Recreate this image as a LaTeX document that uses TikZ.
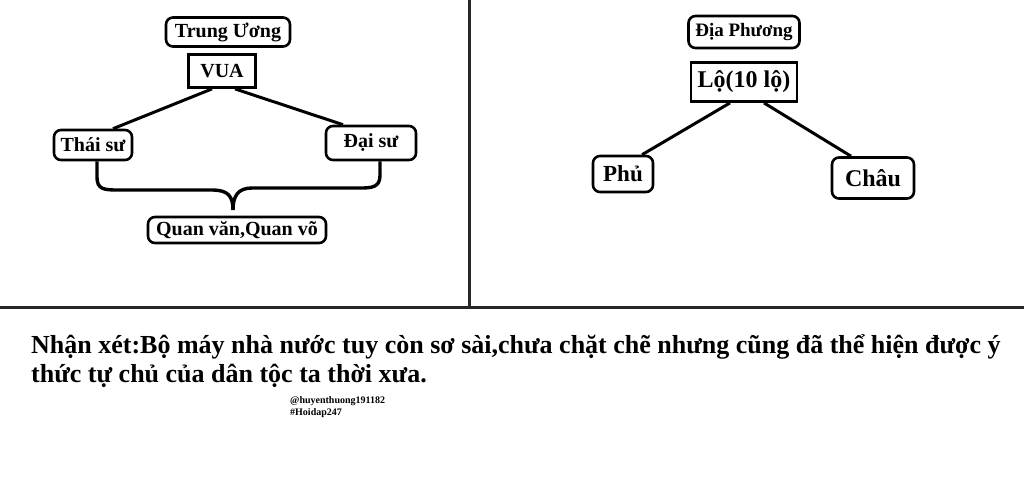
\documentclass[tikz,border=0pt]{standalone}
\usepackage{fontspec}
\setmainfont{Liberation Serif}
\usepackage{tikz}
\usetikzlibrary{calc}
\tikzstyle{rbox}=[draw,rounded corners=7pt,line width=2.6pt,inner sep=0pt]
\tikzstyle{sbox}=[draw,line width=2.8pt,inner sep=0pt]
\tikzstyle{edge} = [draw,line width=3pt]
\tikzstyle{brace} = [draw,line width=3.4pt]
\tikzstyle{frame} = [draw,line width=3pt,black!85]
\tikzstyle{note} = [inner sep=0pt,font=\bfseries\fontsize{26}{29}\selectfont]
\tikzstyle{sig} = [inner sep=0pt,font=\bfseries\fontsize{10}{12}\selectfont]

\begin{document}
\begin{tikzpicture}[x=1pt,y=-1pt]
    \useasboundingbox (0,0) rectangle (1024,483);
    % The frame between the panels
    \draw[frame] (469,0) -- (469,307);
    \draw[frame] (0,307) -- (1024,307);

    % First we draw the boxes
    \foreach \pos/\name/\w/\h/\fs/\txt in {{(222,71)/vua/67/33/20/VUA}, {(744,82)/lo/106/39/24/Lộ(10 lộ)}}
        \node[sbox,minimum width=\w pt,minimum height=\h pt,font=\bfseries\fontsize{\fs}{\fs}\selectfont] (\name) at \pos {\txt};

    \foreach \pos/\name/\w/\h/\fs/\txt in {{(228,32)/tw/124/29/20/Trung Ương},
        {(93,145)/thai/78/30/20/Thái sư}, {(371,143)/dai/90/34/20/Đại sư},
        {(237,230)/quan/178/26/20/{Quan văn,Quan võ}}, {(744,32)/dp/111/32/19/Địa Phương},
        {(623,174)/phu/60/36/23/Phủ}, {(873,178)/chau/82/41/24/Châu}}
        \node[rbox,minimum width=\w pt,minimum height=\h pt,font=\bfseries\fontsize{\fs}{\fs}\selectfont] (\name) at \pos {\txt};

    % Connect boxes with edges
    \foreach \source/\sx/\dest/\dx in {vua/-10/thai/20, vua/13/dai/-28, lo/-14/phu/19, lo/20/chau/-22}
        \path[edge] ([xshift=\sx pt]\source.south) -- ([xshift=\dx pt]\dest.north);

    % the brace over Quan van, Quan vo
    \coordinate (tip) at (233,210);
    \path[brace] ([xshift=4pt]thai.south) -- ++(0,16) .. controls +(0,12) and +(-14,0) .. (118,190)
        -- (212,190) .. controls +(16,0) and +(0,-14) .. (tip);
    \path[brace] ([xshift=9pt]dai.south) -- ++(0,14) .. controls +(0,12) and +(12,0) .. (360,188)
        -- (252,188) .. controls +(-14,0) and +(0,-14) .. (tip);

    % Comment below
    \node[note,anchor=base west] (note1) at (31,353) {Nhận xét:Bộ máy nhà nước tuy còn sơ sài,chưa chặt chẽ nhưng cũng đã thể hiện được ý};
    \node[note,anchor=base west] (note2) at (31,382) {thức tự chủ của dân tộc ta thời xưa.};
    \node[sig,anchor=base west] (sig1) at (290,403) {@huyenthuong191182};
    \node[sig,anchor=base west] (sig2) at (290,415) {\#Hoidap247};
\end{tikzpicture}
\end{document}
